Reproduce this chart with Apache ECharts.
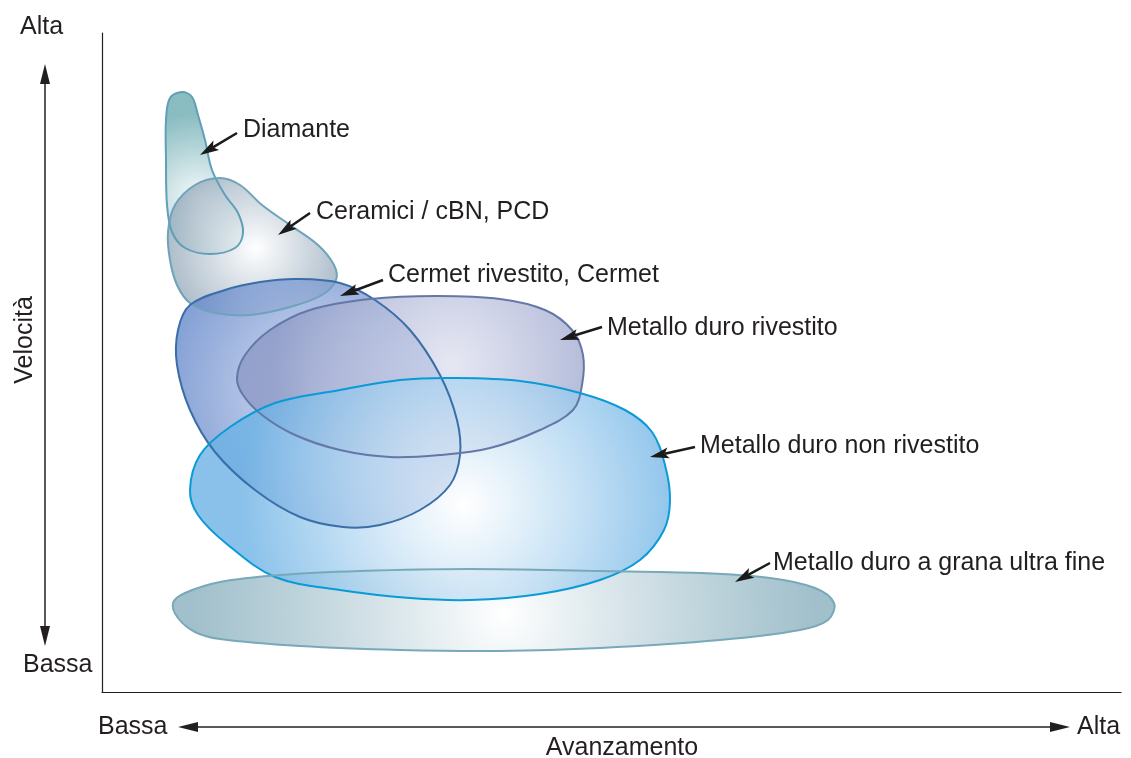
<!DOCTYPE html>
<html><head><meta charset="utf-8">
<script src="https://cdn.jsdelivr.net/npm/echarts@6/dist/echarts.min.js"></script>
<style>html,body{margin:0;padding:0;background:#fff}#c{width:1131px;height:758px}</style>
</head><body><div id="c"></div>
<script>
// Categories (tool materials)
const categories = ['Diamante', 'Ceramici / cBN, PCD', 'Cermet rivestito, Cermet', 'Metallo duro rivestito', 'Metallo duro non rivestito', 'Metallo duro a grana ultra fine'];
// Axis names and tick labels
const xName = 'Avanzamento', yName = 'Velocità';
const tickLabels = ['Bassa', 'Alta'];
// Region outlines: [avanzamento, velocità] in relative units (x 0..1019, y 0..659)
const diamante = [[80,600],[90,595],[96,577],[103,552],[110,522],[123,497],[136,479],[141,459],[133,444],[108,438],[83,444],[70,460],[65,487],[64,532],[64,572],[68,594]];
const ceramici = [[118,514],[138,507],[160,487],[188,467],[216,447],[232,427],[234,412],[220,397],[188,385],[148,377],[113,379],[88,389],[75,407],[68,432],[66,460],[73,487],[93,507]];
const cermet = [[195,413],[238,409],[273,392],[308,362],[338,317],[355,272],[358,237],[348,207],[318,182],[278,167],[241,165],[198,175],[153,202],[113,240],[88,282],[75,327],[76,362],[88,387],[123,402],[158,410]];
const rivestito = [[335,396],[398,393],[443,382],[470,362],[481,337],[480,307],[471,282],[438,262],[388,244],[338,237],[288,235],[238,242],[193,257],[160,277],[141,297],[135,314],[143,337],[168,362],[208,382],[268,393]];
const nonRivestito = [[351,314],[418,311],[478,299],[523,282],[550,260],[563,227],[568,192],[562,162],[538,132],[498,112],[438,98],[368,92],[308,94],[238,102],[173,115],[126,147],[96,177],[88,202],[98,237],[128,265],[173,289],[238,302],[298,312]];
const ultraFine = [[71,89],[83,99],[118,110],[178,117],[258,121],[368,123],[498,121],[598,119],[668,114],[713,104],[732,89],[726,72],[698,62],[618,52],[498,44],[398,41],[298,42],[198,46],[118,53],[93,60],[76,74]];
// Label anchor points and pointer arrows [fromX, fromY, toX, toY]
const labelPoints = [[141,562],[214,480],[286,417],[505,364],[598,246],[671,129]];
const arrows = [[135,559,98,537],[208,479,176,457],[281,412,238,396],[500,365,458,352],[593,245,548,235],[668,129,633,110]];

const outlines = [diamante, ceramici, cermet, rivestito, nonRivestito, ultraFine];
const styles = [
  {cx:0.42, cy:0.66, r:1.1, c0:'rgba(245,250,250,0.85)', c1:'rgba(112,174,180,0.82)', stroke:'#5f9fb8', z:1},
  {cx:0.52, cy:0.51, r:0.75, c0:'rgba(255,255,255,0.85)', c1:'rgba(135,158,178,0.78)', stroke:'#6fa2bb', z:2},
  {cx:0.5, cy:0.45, r:0.6, c0:'rgba(200,210,238,0.74)', c1:'rgba(100,136,202,0.78)', stroke:'#3b6ea8', z:4},
  {cx:0.62, cy:0.42, r:1.1, c0:'rgba(220,222,238,0.72)', c1:'rgba(140,152,197,0.78)', stroke:'#6577a6', z:5},
  {cx:0.57, cy:0.57, r:1.0, c0:'rgba(255,255,255,0.72)', c1:'rgba(108,178,229,0.8)', stroke:'#0a9ad6', z:6},
  {cx:0.5, cy:0.56, r:3.8, c0:'rgba(255,255,255,0.95)', c1:'rgba(140,178,192,0.82)', stroke:'#78a9b8', z:3}
];

const FONT = '"Liberation Sans", Arial, Helvetica, sans-serif';

function blob(i, strokeOnly) {
  const outline = outlines[i], st = styles[i];
  return {
    type: 'custom', name: categories[i], coordinateSystem: 'cartesian2d', silent: true,
    z: strokeOnly ? 8 : st.z,
    data: [outline[0]],
    renderItem: function (params, api) {
      const pts = outline.map(p => api.coord(p));
      const style = strokeOnly
        ? { fill: null, stroke: st.stroke, lineWidth: 2 }
        : { fill: { type: 'radial', x: st.cx, y: st.cy, r: st.r,
              colorStops: [{offset: 0, color: st.c0}, {offset: 1, color: st.c1}] }, stroke: null };
      return { type: 'polygon', shape: { points: pts, smooth: 0.35 }, style: style };
    }
  };
}

const series = outlines.map((o, i) => blob(i, false)).concat(outlines.map((o, i) => blob(i, true)));
series.push({
  type: 'custom', coordinateSystem: 'cartesian2d', silent: true, z: 10,
  data: arrows,
  encode: { x: [0, 2], y: [1, 3] },
  renderItem: function (params, api) {
    const a = api.coord([api.value(0), api.value(1)]);
    const b = api.coord([api.value(2), api.value(3)]);
    const dx = b[0] - a[0], dy = b[1] - a[1];
    const L = Math.sqrt(dx * dx + dy * dy), ux = dx / L, uy = dy / L;
    const hl = 19, hw = 5.5;
    const base = [b[0] - ux * hl, b[1] - uy * hl];
    const notch = [b[0] - ux * (hl - 4), b[1] - uy * (hl - 4)];
    return {
      type: 'group',
      children: [
        { type: 'line', shape: { x1: a[0], y1: a[1], x2: notch[0], y2: notch[1] }, style: { stroke: '#1a1a1a', lineWidth: 2.5 } },
        { type: 'polygon', shape: { points: [b, [base[0] - uy * hw, base[1] + ux * hw], notch, [base[0] + uy * hw, base[1] - ux * hw]] }, style: { fill: '#1a1a1a' } }
      ]
    };
  }
});
series.push({
  type: 'scatter', silent: true, z: 11, symbolSize: 0,
  itemStyle: { opacity: 1 },
  data: labelPoints.map((p, i) => ({ name: categories[i], value: p })),
  label: { show: true, position: 'right', distance: 0, formatter: '{b}', fontSize: 25, color: '#231f20', opacity: 1, fontFamily: FONT }
});

const chart = echarts.init(document.getElementById('c'), null, { renderer: 'canvas' });
const txt = { fill: '#231f20', font: '25px ' + FONT };
chart.setOption({
  animation: false,
  backgroundColor: '#fff',
  grid: { left: 102, top: 33, right: 10, bottom: 66 },
  xAxis: { type: 'value', min: 0, max: 1019, axisLine: { show: true, onZero: false, lineStyle: { color: '#231f20', width: 1.2 } },
    axisTick: { show: false }, axisLabel: { show: false }, splitLine: { show: false } },
  yAxis: { type: 'value', min: 0, max: 659, axisLine: { show: true, onZero: false, lineStyle: { color: '#231f20', width: 1.2 } },
    axisTick: { show: false }, axisLabel: { show: false }, splitLine: { show: false } },
  series: series,
  graphic: [
    { type: 'text', x: 20, y: 27, style: Object.assign({ text: tickLabels[1], textVerticalAlign: 'middle' }, txt) },
    { type: 'text', x: 23, y: 665, style: Object.assign({ text: tickLabels[0], textVerticalAlign: 'middle' }, txt) },
    { type: 'text', x: 25, y: 340, rotation: Math.PI / 2, style: Object.assign({ text: yName, textAlign: 'center', textVerticalAlign: 'middle' }, txt) },
    { type: 'line', shape: { x1: 45, y1: 78, x2: 45, y2: 632 }, style: { stroke: '#231f20', lineWidth: 1.5 } },
    { type: 'polygon', shape: { points: [[45, 64], [40, 84], [50, 84]] }, style: { fill: '#231f20' } },
    { type: 'polygon', shape: { points: [[45, 646], [40, 626], [50, 626]] }, style: { fill: '#231f20' } },
    { type: 'text', x: 98, y: 727, style: Object.assign({ text: tickLabels[0], textVerticalAlign: 'middle' }, txt) },
    { type: 'text', x: 1077, y: 727, style: Object.assign({ text: tickLabels[1], textVerticalAlign: 'middle' }, txt) },
    { type: 'line', shape: { x1: 192, y1: 727, x2: 1056, y2: 727 }, style: { stroke: '#231f20', lineWidth: 1.5 } },
    { type: 'polygon', shape: { points: [[178, 727], [198, 722], [198, 732]] }, style: { fill: '#231f20' } },
    { type: 'polygon', shape: { points: [[1070, 727], [1050, 722], [1050, 732]] }, style: { fill: '#231f20' } },
    { type: 'text', x: 622, y: 748, style: Object.assign({ text: xName, textAlign: 'center', textVerticalAlign: 'middle' }, txt) }
  ]
});
</script></body></html>
